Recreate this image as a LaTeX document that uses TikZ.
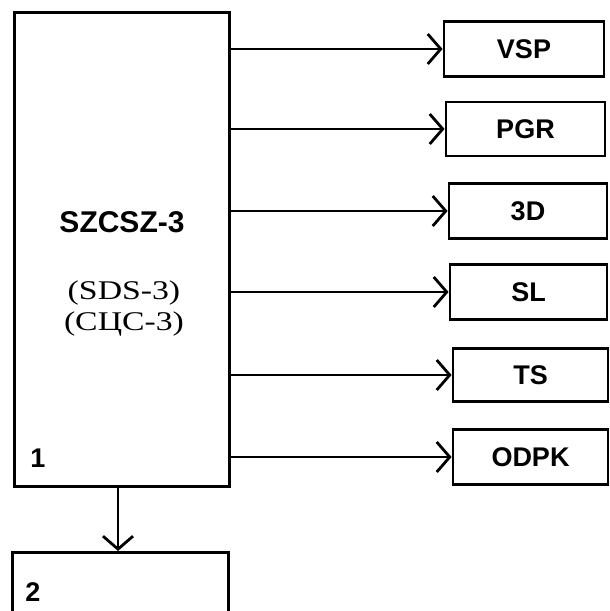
\documentclass[tikz,border=0pt]{standalone}
\usepackage{fontspec}
\setmainfont{Liberation Serif}
\setsansfont{Liberation Sans}
\newfontfamily\stretchserif[FakeStretch=1.25]{Liberation Serif}
\usetikzlibrary{arrows.meta}
\begin{document}
\begin{tikzpicture}[x=1pt,y=-1pt,
  line width=2.8pt,
  blk/.style={draw,line width=2.8pt,inner sep=0pt,font=\sffamily\bfseries\fontsize{27}{30}\selectfont},
  arr/.style={line width=2.8pt,-{Straight Barb[length=13pt,width=30pt,line width=2.8pt]}, line join=miter}]
\useasboundingbox (0,0) rectangle (610,611);
\fill[white] (0,0) rectangle (610,611);
% main block 1
\node[blk, minimum width=215pt, minimum height=474pt, anchor=north west] (b1) at (13,11) {};
\node[font=\sffamily\bfseries\fontsize{30}{32}\selectfont] (title) at (122,222) {SZCSZ-3};
\node[font=\stretchserif\fontsize{27}{31}\selectfont, align=center] (sub) at (124,309) {(SDS-3)\\(СЦС-3)};
\node[font=\sffamily\bfseries\fontsize{27}{30}\selectfont] (n1) at (38,458) {1};
% block 2 (bottom continues below the picture)
\node[blk, minimum width=216pt, minimum height=120pt, anchor=north west] (b2) at (11,551) {};
\node[font=\sffamily\bfseries\fontsize{27}{30}\selectfont] (n2) at (33,592) {2};
% right blocks
\node[blk, minimum width=160pt, minimum height=55pt] (vsp) at (524,49) {VSP};
\node[blk, minimum width=159pt, minimum height=54pt] (pgr) at (525.5,129) {PGR};
\node[blk, minimum width=158pt, minimum height=55pt] (d3) at (528,211) {3D};
\node[blk, minimum width=157pt, minimum height=55pt] (sl) at (528.5,292) {SL};
\node[blk, minimum width=155pt, minimum height=53pt] (ts) at (530.5,375) {TS};
\node[blk, minimum width=155pt, minimum height=55pt] (odpk) at (530.5,457) {ODPK};
% connectors
\foreach \t in {vsp,pgr,d3,sl,ts,odpk}{
  \draw[arr] (\t.west -| b1.east) -- (\t.west);
}
\draw[arr] (b1.south -| 118,0) -- (b2.north -| 118,0);
\end{tikzpicture}
\end{document}
